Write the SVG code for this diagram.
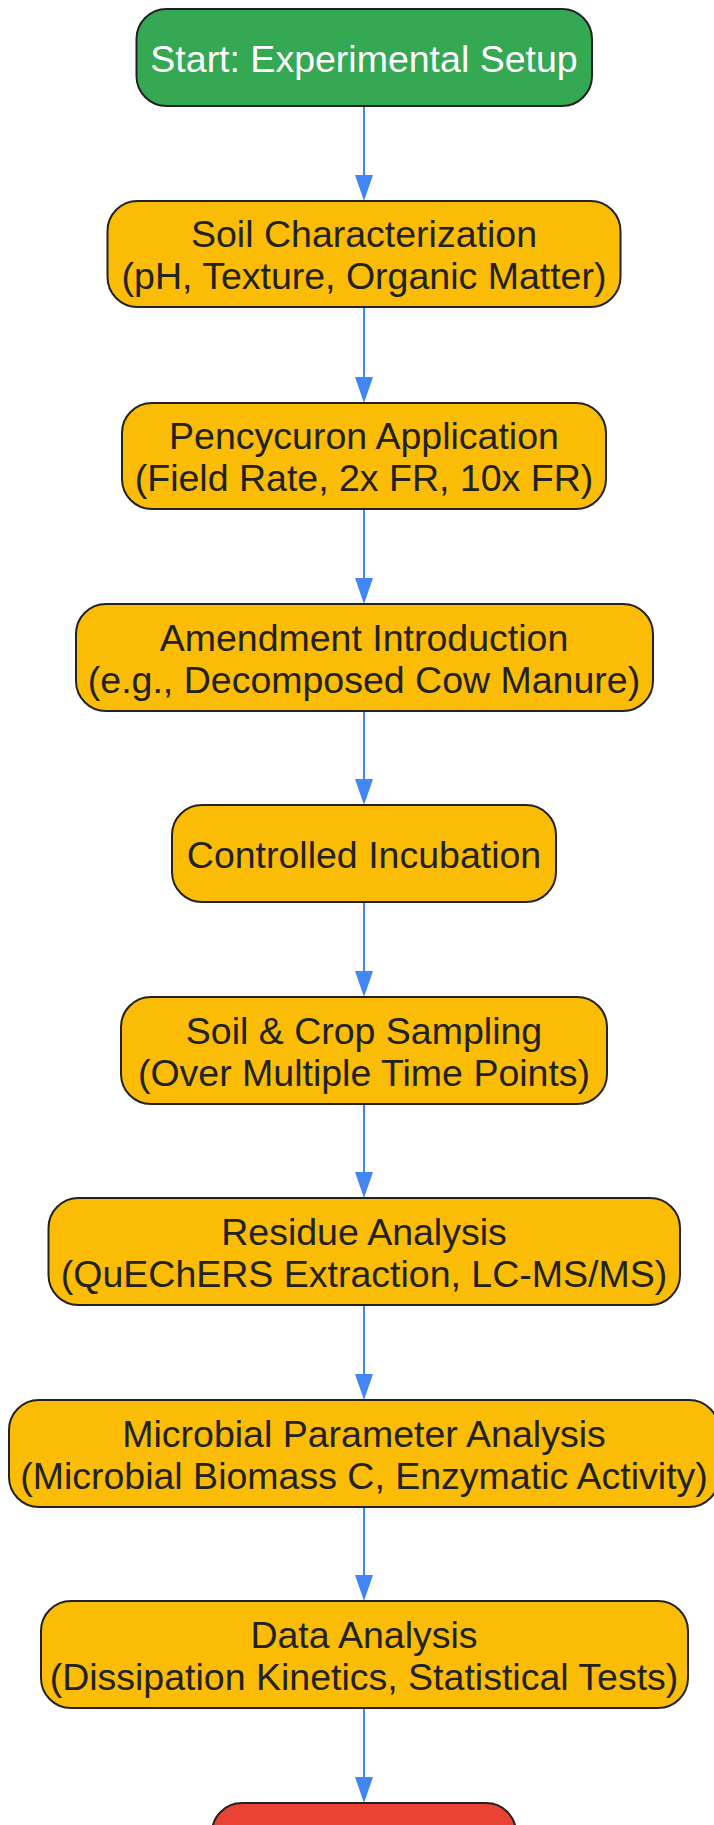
<svg xmlns="http://www.w3.org/2000/svg" width="714" height="1825" viewBox="0 0 714 1825">
<style>
.node rect{stroke:#222222;stroke-width:2}
.proc rect{fill:#FBBC05}
.start rect{fill:#34A853}
.end rect{fill:#EA4335}
text{font-family:"Liberation Sans",Arial,sans-serif;font-size:37.5px;text-anchor:middle;fill:#222222}
.start text{fill:#ffffff}
.edge{stroke:#4285F4;stroke-width:2;fill:none}
</style>
<defs>
<marker id="arr" viewBox="0 0 26 18" refX="1" refY="9" markerWidth="26" markerHeight="18" markerUnits="userSpaceOnUse" orient="auto">
<path d="M0,0 L26,9 L0,18 Z" fill="#4285F4"/>
</marker>
</defs>
<rect width="714" height="1825" fill="#ffffff"/>
<g id="connectors">
<line class="edge" x1="364" y1="106" x2="364" y2="176" marker-end="url(#arr)"/>
<line class="edge" x1="364" y1="307" x2="364" y2="378" marker-end="url(#arr)"/>
<line class="edge" x1="364" y1="509" x2="364" y2="579" marker-end="url(#arr)"/>
<line class="edge" x1="364" y1="711" x2="364" y2="780" marker-end="url(#arr)"/>
<line class="edge" x1="364" y1="902" x2="364" y2="972" marker-end="url(#arr)"/>
<line class="edge" x1="364" y1="1104" x2="364" y2="1173" marker-end="url(#arr)"/>
<line class="edge" x1="364" y1="1305" x2="364" y2="1375" marker-end="url(#arr)"/>
<line class="edge" x1="364" y1="1507" x2="364" y2="1576" marker-end="url(#arr)"/>
<line class="edge" x1="364" y1="1708" x2="364" y2="1778" marker-end="url(#arr)"/>
</g>
<g id="node-start" class="node start">
<rect x="136.5" y="9" width="455.5" height="97" rx="30"/>
<text x="364" y="71.5">Start: Experimental Setup</text>
</g>
<g id="node-soil" class="node proc">
<rect x="107.5" y="201" width="513" height="106" rx="30"/>
<text x="364" y="247">Soil Characterization</text>
<text x="364" y="289">(pH, Texture, Organic Matter)</text>
</g>
<g id="node-pencycuron" class="node proc">
<rect x="122" y="403" width="484" height="106" rx="30"/>
<text x="364" y="449">Pencycuron Application</text>
<text x="364" y="491">(Field Rate, 2x FR, 10x FR)</text>
</g>
<g id="node-amendment" class="node proc">
<rect x="76" y="604" width="577" height="107" rx="30"/>
<text x="364" y="650.5">Amendment Introduction</text>
<text x="364" y="692.5">(e.g., Decomposed Cow Manure)</text>
</g>
<g id="node-incubation" class="node proc">
<rect x="172" y="805" width="384" height="97" rx="30"/>
<text x="364" y="867.5">Controlled Incubation</text>
</g>
<g id="node-sampling" class="node proc">
<rect x="121" y="997" width="486" height="107" rx="30"/>
<text x="364" y="1043.5">Soil &amp; Crop Sampling</text>
<text x="364" y="1085.5">(Over Multiple Time Points)</text>
</g>
<g id="node-residue" class="node proc">
<rect x="48.5" y="1198" width="631.5" height="107" rx="30"/>
<text x="364" y="1244.5">Residue Analysis</text>
<text x="364" y="1286.5">(QuEChERS Extraction, LC-MS/MS)</text>
</g>
<g id="node-microbial" class="node proc">
<rect x="9" y="1400" width="710" height="107" rx="30"/>
<text x="364" y="1446.5">Microbial Parameter Analysis</text>
<text x="364" y="1488.5">(Microbial Biomass C, Enzymatic Activity)</text>
</g>
<g id="node-data" class="node proc">
<rect x="41" y="1601" width="647" height="107" rx="30"/>
<text x="364" y="1647.5">Data Analysis</text>
<text x="364" y="1689.5">(Dissipation Kinetics, Statistical Tests)</text>
</g>
<g id="node-end" class="node end">
<rect x="212" y="1803" width="304" height="97" rx="30"/>
</g>
</svg>
